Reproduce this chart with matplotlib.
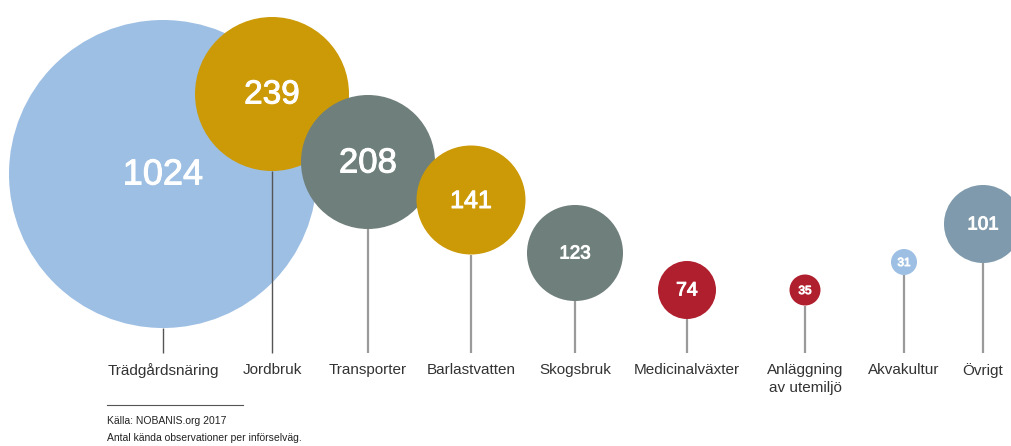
import matplotlib
matplotlib.use("Agg")
import matplotlib.pyplot as plt
import matplotlib.patheffects as pe
from matplotlib.patches import Circle

# Data: antal kända observationer per införselväg
categories = ["Trädgårdsnäring", "Jordbruk", "Transporter", "Barlastvatten",
              "Skogsbruk", "Medicinalväxter", "Anläggning\nav utemiljö",
              "Akvakultur", "Övrigt"]
values = [1024, 239, 208, 141, 123, 74, 35, 31, 101]

# Layout (pixel space of the 1012x446 canvas)
x_pos = [163, 272, 368, 471, 575, 687, 805, 904, 983]
y_pos = [174, 94, 162, 200, 253, 290, 290, 262, 224]
radius = [154, 77, 67, 54.5, 48, 29, 15.5, 13, 39]
num_size = [26, 24, 25, 18, 13.5, 14, 8.5, 8.5, 13.5]

BLUE = "#9dbfe3"
GOLD = "#cc9a06"
GREY = "#6f7f7b"
RED = "#b01f2e"
STEEL = "#7f9aac"
colors = [BLUE, GOLD, GREY, GOLD, GREY, RED, RED, BLUE, STEEL]
stem_colors = ["#555555", "#555555"] + ["#9a9a9a"] * 7

W, H = 1012, 446
plt.rcParams["font.family"] = ["Liberation Sans", "DejaVu Sans"]

fig = plt.figure(figsize=(W / 100, H / 100), dpi=100)
ax = fig.add_axes([0, 0, 1, 1])
ax.set_xlim(0, W)
ax.set_ylim(H, 0)
ax.set_aspect("equal")
ax.axis("off")

# slightly heavier than regular for the numbers
medium = [pe.withStroke(linewidth=0.7, foreground="white")]

stem_bottom = 353
for i, (cat, val) in enumerate(zip(categories, values)):
    x, y, r = x_pos[i], y_pos[i], radius[i]
    # stem from circle bottom to label
    ax.plot([x, x], [y + r, stem_bottom], color=stem_colors[i],
            lw=1.0 if i < 2 else 1.6, zorder=1 + i * 2, solid_capstyle="butt")
    ax.add_patch(Circle((x, y), r, facecolor=colors[i], edgecolor="none",
                        zorder=2 + i * 2))
    ax.text(x, y + 1, str(val), color="white", fontsize=num_size[i],
            ha="center", va="center", path_effects=medium,
            zorder=3 + i * 2)
    ax.text(x, 363, cat, color="#333333", fontsize=11, ha="center", va="top",
            linespacing=1.4, zorder=30)

# source note
ax.plot([107, 243], [405, 405], color="#555555", lw=0.8)
ax.text(107, 421, "Källa: NOBANIS.org 2017", fontsize=7.5, color="#222222",
        ha="left", va="center")
ax.text(107, 438, "Antal kända observationer per införselväg.", fontsize=7.5,
        color="#222222", ha="left", va="center")

fig.savefig("out.png", dpi=100)
plt.close(fig)
